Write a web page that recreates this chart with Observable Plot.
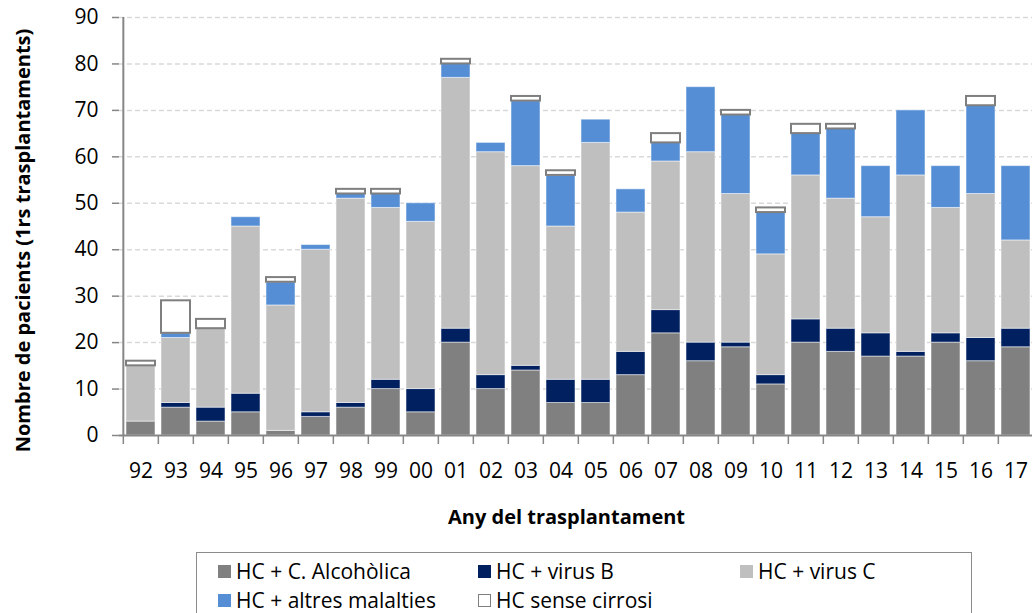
<!DOCTYPE html>
<html>
<head>
<meta charset="utf-8">
<script src="https://cdn.jsdelivr.net/npm/d3@7"></script>
<script src="https://cdn.jsdelivr.net/npm/@observablehq/plot@0.6"></script>
<style>
  html, body { margin: 0; padding: 0; background: #fff; overflow: hidden; }
  #wrap { position: relative; width: 1032px; height: 613px; overflow: hidden; background: #fff; font-family: 'Open Sans', sans-serif; }
  #legend { position: absolute; left: 196px; top: 552px; width: 776px; height: 75px; border: 1.5px solid #8c8c8c; box-sizing: border-box; }
  .item { position: absolute; display: flex; align-items: center; height: 24px; font-size: 21px; color: #000; white-space: nowrap; }
  .sw { width: 13px; height: 13px; margin-right: 5px; box-sizing: border-box; }
</style>
</head>
<body>
<div id="wrap"></div>
<script>
const years = ["92","93","94","95","96","97","98","99","00","01","02","03","04","05","06","07","08","09","10","11","12","13","14","15","16","17"];
const seriesNames = ["HC + C. Alcohòlica", "HC + virus B", "HC + virus C", "HC + altres malalties", "HC sense cirrosi"];
const seriesColors = ["#808080", "#002060", "#bfbfbf", "#558ed5", "#ffffff"];
const alcoholica = [3,6,3,5,1,4,6,10,5,20,10,14,7,7,13,22,16,19,11,20,18,17,17,20,16,19];
const virusB     = [0,1,3,4,0,1,1,2,5,3,3,1,5,5,5,5,4,1,2,5,5,5,1,2,5,4];
const virusC     = [12,14,17,36,27,35,44,37,36,54,48,43,33,51,30,32,41,32,26,31,28,25,38,27,31,19];
const altres     = [0,1,0,2,5,1,1,3,4,3,2,14,11,5,5,4,14,17,9,9,15,11,14,9,19,16];
const senseCirr  = [1,7,2,0,1,0,1,1,0,1,0,1,1,0,0,2,0,1,1,2,1,0,0,0,2,0];
const yTicks = [0,10,20,30,40,50,60,70,80,90];
const yTitle = "Nombre de pacients (1rs trasplantaments)";
const xTitle = "Any del trasplantament";

const seriesValues = [alcoholica, virusB, virusC, altres, senseCirr];
const data = [];
years.forEach((y, i) => {
  seriesNames.forEach((s, k) => data.push({year: y, series: s, value: seriesValues[k][i]}));
});

const x0 = 119, step = 35.33;
const xRange = [x0, x0 + step * years.length];
const axisColor = "#868686";

const chart = Plot.plot({
  width: 1032,
  height: 545,
  marginLeft: 119,
  marginRight: 0,
  marginTop: 17,
  marginBottom: 110,
  style: {fontFamily: "'Open Sans', sans-serif", fontSize: "21px", color: "#000", background: "#fff"},
  x: {domain: years, range: xRange, paddingInner: 0.18, paddingOuter: 0.09, label: null},
  y: {domain: [0, 90], label: null},
  color: {domain: seriesNames, range: seriesColors},
  marks: [
    Plot.ruleY(yTicks.filter(d => d > 0), {stroke: "#d9d9d9", strokeWidth: 1.5, strokeDasharray: "5,3"}),
    Plot.barY(data, Plot.stackY({x: "year", y: "value", fill: "series", stroke: "#ffffff", strokeOpacity: 0.5, strokeWidth: 1})),
    Plot.barY(data, Plot.stackY({x: "year", y: "value", fill: "none", stroke: "#7f7f7f", strokeWidth: 2,
      strokeOpacity: d => d.series === "HC sense cirrosi" ? 1 : 0})),
    Plot.ruleY([0], {stroke: axisColor, strokeWidth: 2}),
    Plot.ruleX([years[0]], {x: d => d, dx: -step / 2, y1: 0, y2: 90, stroke: axisColor, strokeWidth: 2}),
    Plot.ruleX(years, {x: d => d, dx: -step / 2, y1: 0, y2: -1.94, stroke: axisColor, strokeWidth: 1.5}),
    Plot.axisY({ticks: yTicks, tickSize: 7, tickPadding: 14, stroke: axisColor, strokeWidth: 1.5, fontSize: 21, label: null}),
    Plot.axisX({tickSize: 0, tickPadding: 28, fontSize: 21, label: null}),
    Plot.text([yTitle], {frameAnchor: "left", textAnchor: "middle", lineAnchor: "middle", rotate: -90, dx: -96, dy: 14, fontWeight: "bold", fontSize: 20, fill: "#000"}),
    Plot.text([xTitle], {frameAnchor: "bottom", textAnchor: "middle", lineAnchor: "middle", dx: -9.5, dy: 82, fontWeight: "bold", fontSize: 20, fill: "#000"})
  ]
});

const wrap = document.getElementById("wrap");
wrap.appendChild(chart);

const legend = document.createElement("div");
legend.id = "legend";
const pos = [[21, 6], [281, 6], [543, 6], [21, 35], [281, 35]];
seriesNames.forEach((s, k) => {
  const it = document.createElement("div");
  it.className = "item";
  it.style.left = pos[k][0] + "px";
  it.style.top = pos[k][1] + "px";
  const sw = document.createElement("span");
  sw.className = "sw";
  sw.style.background = seriesColors[k];
  if (s === "HC sense cirrosi") sw.style.border = "1.5px solid #7f7f7f";
  const t = document.createElement("span");
  t.textContent = s;
  it.appendChild(sw);
  it.appendChild(t);
  legend.appendChild(it);
});
wrap.appendChild(legend);
</script>
</body>
</html>
